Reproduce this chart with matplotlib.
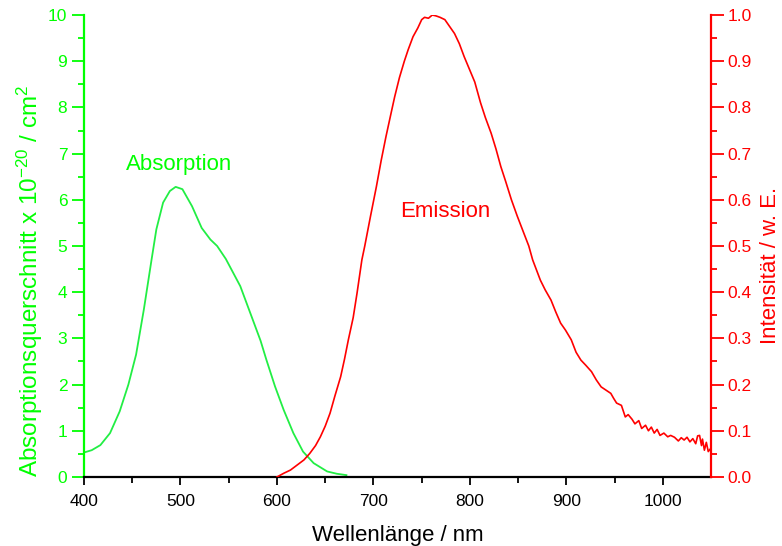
# absorption / emission spectra, two y axes

import matplotlib.pyplot as plt

plt.rcParams['font.family'] = ['Liberation Sans', 'DejaVu Sans']
plt.rcParams['mathtext.default'] = 'regular'

GREEN = "#00ff00"
RED = "#ff0000"

# absorption cross section (1e-20 cm^2)
abs_nm = [400, 408, 417, 427, 437, 446, 454, 462, 470, 475, 482, 489, 495, 502,
          512, 522, 531, 538, 547, 562, 575, 583, 589, 598, 607, 617, 627, 638,
          652, 662, 672]
abs_val = [0.53, 0.58, 0.69, 0.95, 1.42, 2.0, 2.65, 3.62, 4.70, 5.36, 5.94, 6.19,
           6.28, 6.23, 5.86, 5.39, 5.14, 5.00, 4.72, 4.13, 3.40, 2.95, 2.54,
           1.96, 1.45, 0.95, 0.55, 0.30, 0.12, 0.07, 0.04]

# emission intensity (a.u.)
em_nm = [600, 607, 614, 621, 628, 634, 640, 645, 650, 655, 660, 666, 670, 674,
         679, 683, 688, 691, 697, 703, 708, 713, 718, 722, 727, 732, 736, 741,
         746, 750, 753, 757, 761, 765, 769, 774, 779, 784, 789, 794, 799, 805,
         811, 816, 822, 827, 832, 837, 843, 849, 856, 861, 865, 869, 873, 878,
         884, 889, 894, 899, 905, 910, 915, 920, 926, 931, 936, 941, 946, 949,
         952, 957, 961, 964, 968, 971, 975, 978, 982, 985, 988, 991, 994, 997,
         1001, 1005, 1008, 1012, 1016, 1019, 1022, 1025, 1028, 1031, 1034,
         1036, 1038, 1040, 1041, 1043, 1045, 1047, 1050]
em_val = [0.0, 0.008, 0.015, 0.026, 0.037, 0.051, 0.068, 0.087, 0.110, 0.138,
          0.175, 0.217, 0.255, 0.297, 0.345, 0.398, 0.47, 0.50, 0.565, 0.628,
          0.685, 0.737, 0.785, 0.823, 0.865, 0.90, 0.925, 0.953, 0.972, 0.99,
          0.995, 0.993, 1.0, 0.998, 0.995, 0.99, 0.975, 0.96, 0.938, 0.91,
          0.885, 0.855, 0.81, 0.778, 0.744, 0.71, 0.672, 0.64, 0.60, 0.565,
          0.527, 0.50, 0.47, 0.448, 0.426, 0.405, 0.383, 0.357, 0.333, 0.318,
          0.297, 0.27, 0.253, 0.242, 0.228, 0.21, 0.195, 0.188, 0.181, 0.17,
          0.16, 0.155, 0.13, 0.135, 0.125, 0.115, 0.122, 0.105, 0.112, 0.100,
          0.108, 0.095, 0.103, 0.090, 0.095, 0.087, 0.09, 0.086, 0.078, 0.085,
          0.08, 0.086, 0.076, 0.083, 0.072, 0.089, 0.09, 0.068, 0.082, 0.058,
          0.075, 0.055, 0.063]

fig = plt.figure(figsize=(7.82, 5.46), dpi=100)
ax = fig.add_axes([0.1074, 0.1264, 0.802, 0.8461])
ax2 = ax.twinx()

ax.plot(abs_nm, abs_val, color="#22ee44", lw=1.3)
ax2.plot(em_nm, em_val, color=RED, lw=1.2)

ax.set_xlim(400, 1050)
ax.set_ylim(0, 10)
ax2.set_ylim(0, 1.0)

ax.set_xticks(range(400, 1001, 100))
ax.set_xticks(range(450, 1050, 100), minor=True)
ax.set_yticks(range(0, 11))
ax.set_yticks([i + 0.5 for i in range(10)], minor=True)
ax2.set_yticks([i / 10 for i in range(11)])
ax2.set_yticks([i / 10 + 0.05 for i in range(10)], minor=True)
ax2.set_yticklabels([f"{i / 10:.1f}" for i in range(11)])

for a in (ax, ax2):
    a.spines['top'].set_visible(False)
ax.spines['right'].set_visible(False)
ax.spines['left'].set_color(GREEN)
ax.spines['left'].set_linewidth(1.6)
ax.spines['bottom'].set_linewidth(1.6)
ax2.spines['left'].set_visible(False)
ax2.spines['bottom'].set_visible(False)
ax2.spines['right'].set_color(RED)
ax2.spines['right'].set_linewidth(1.6)

ax.tick_params(axis='x', which='major', length=6, width=1.3, labelsize=12.5, pad=6)
ax.tick_params(axis='x', which='minor', length=4, width=1.3)
ax.tick_params(axis='y', which='major', length=9, width=1.3, colors=GREEN,
               labelsize=12.5, pad=3)
ax.tick_params(axis='y', which='minor', length=4, width=1.3, colors=GREEN)
ax2.tick_params(axis='y', which='major', length=9, width=1.3, colors=RED,
                labelsize=12.5, pad=3)
ax2.tick_params(axis='y', which='minor', length=4, width=1.3, colors=RED)

ax.set_xlabel("Wellenlänge / nm", fontsize=16, labelpad=12)
ax.set_ylabel("Absorptionsquerschnitt x 10$^{-20}$ / cm$^{2}$", fontsize=17.5,
              color=GREEN, labelpad=2)
ax.yaxis.label.set_y(0.424)
ax2.set_ylabel("Intensität / w. E.", fontsize=16, color=RED, labelpad=6)
ax2.yaxis.label.set_y(0.459)

ax.text(499, 6.77, "Absorption", color=GREEN, fontsize=16, ha="center", va="center")
ax2.text(774, 0.574, "Emission", color=RED, fontsize=16, ha="center", va="center")

fig.savefig("out.png", dpi=100)
